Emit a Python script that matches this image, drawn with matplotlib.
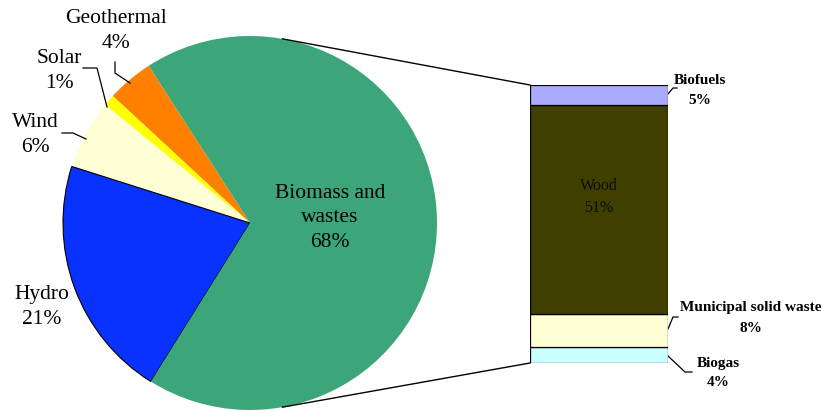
import matplotlib
matplotlib.use("Agg")
import matplotlib.pyplot as plt
import numpy as np

# ---- data ----
pie_labels = ["Geothermal", "Solar", "Wind", "Hydro", "Biomass and\nwastes"]
pie_values = [4, 1, 6, 21, 68]
pie_colors = ["#FF7F00", "#FFFF00", "#FFFFD5", "#0A32FF", "#3CA67A"]

bar_labels = ["Biogas", "Municipal solid waste", "Wood", "Biofuels"]
bar_values = [4, 8, 51, 5]
bar_colors = ["#CCFFFF", "#FFFFD5", "#3F3F00", "#AAAAFF"]

W, H = 823, 411
FONT = ["Liberation Serif", "DejaVu Serif"]

fig = plt.figure(figsize=(W / 100, H / 100), dpi=100)
ax = fig.add_axes([0, 0, 1, 1])

def py(y):  # pixel-from-top to data y
    return H - y

cx, cy, R = 250, py(223), 187
start = 122.8
wedges, _ = ax.pie(pie_values, colors=pie_colors, startangle=start,
                   counterclock=True, center=(cx, cy), radius=R,
                   wedgeprops=dict(linewidth=0), frame=True)
ax.set_xlim(0, W)
ax.set_ylim(0, H)
ax.set_aspect("equal")
ax.axis("off")
# hydro outline
wedges[3].set_edgecolor("black")
wedges[3].set_linewidth(0.8)

total = sum(pie_values)
pie_text_pos = {
    "Geothermal": (116, 31),
    "Solar": (59, 71),
    "Wind": (35, 135),
    "Hydro": (42, 307),
    "Biomass and\nwastes": (330, 218),
}
for lab, val in zip(pie_labels, pie_values):
    x, y = pie_text_pos[lab]
    ax.text(x, py(y), f"{lab}\n{round(100 * val / total)}%", ha="center", va="center",
            fontsize=15.5, family=FONT, linespacing=1.42, color="black")

# pie leader lines
for pts in [[(115, 62), (115, 73), (130, 83)],
            [(83, 68), (97, 68), (107, 107)],
            [(62, 133), (73, 133), (86, 139)]]:
    xs = [p[0] for p in pts]
    ys = [py(p[1]) for p in pts]
    ax.plot(xs, ys, color="black", lw=0.9)

# ---- bar of pie ----
bx0, bx1, by_top, by_bot = 530, 668, 85, 363
bax = fig.add_axes([bx0 / W, (H - by_bot) / H, (bx1 - bx0) / W, (by_bot - by_top) / H])
bottom = 0
for lab, val, col in zip(bar_labels, bar_values, bar_colors):
    bax.bar(0, val, bottom=bottom, width=1.0, color=col, edgecolor="black", linewidth=0.9)
    bottom += val
bax.set_xlim(-0.5, 0.5)
bax.set_ylim(0, sum(bar_values))
bax.axis("off")

# connection lines
a_top, a_bot = np.deg2rad(80), np.deg2rad(-80)
ax.plot([cx + R * np.cos(a_top), bx0], [cy + R * np.sin(a_top), py(by_top)], color="black", lw=1.0)
ax.plot([cx + R * np.cos(a_bot), bx0], [cy + R * np.sin(a_bot), py(by_bot)], color="black", lw=1.0)

# wood label inside
bax.text(0, bar_values[0] + bar_values[1] + 0.56 * bar_values[2], "Wood\n51%", ha="center", va="center",
         fontsize=11.5, family=FONT, color="#0d0d00", linespacing=1.5)

bar_text_pos = {
    "Biofuels": (700, 90),
    "Municipal solid waste": (751, 318),
    "Biogas": (718, 373),
}
for lab, val in zip(bar_labels, bar_values):
    if lab in bar_text_pos:
        x, y = bar_text_pos[lab]
        ax.text(x, py(y), f"{lab}\n{val}%", ha="center", va="center", fontsize=11,
                family=FONT, fontweight="bold", linespacing=1.7)

for pts in [[(668, 94), (673, 88), (677, 88)],
            [(668, 329), (673, 317), (678, 317)],
            [(668, 356), (685, 372), (692, 372)]]:
    ax.plot([p[0] for p in pts], [py(p[1]) for p in pts], color="black", lw=0.9)

fig.savefig("out.png", dpi=100)
